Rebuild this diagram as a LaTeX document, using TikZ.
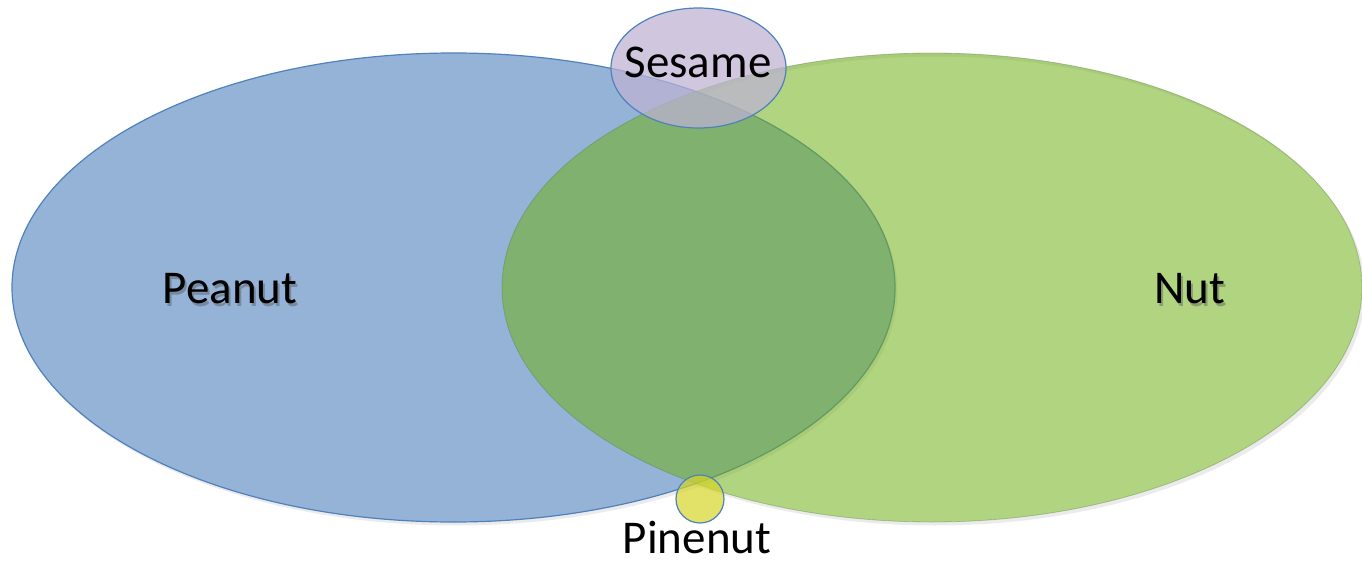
\documentclass[tikz,border=0pt]{standalone}
\usepackage{fontspec}
\setmainfont{Carlito}
\definecolor{pblue}{RGB}{149,179,215}
\definecolor{pborder}{RGB}{79,129,189}
\definecolor{ngreen}{RGB}{112,176,22}
\definecolor{nborder}{RGB}{80,120,60}
\definecolor{slav}{RGB}{190,178,212}
\definecolor{pyel}{RGB}{214,214,40}
\tikzset{
  lbl/.style={font=\fontsize{47}{50}\selectfont, text=black, inner sep=0pt},
  shadowlbl/.style={font=\fontsize{47}{50}\selectfont, text=black!70, opacity=0.4, inner sep=0pt},
  setshape/.style={draw=pborder, line width=1.2pt},
}
\begin{document}
\begin{tikzpicture}[x=1pt,y=-1pt]
\useasboundingbox (0,0) rectangle (1362,562);
\clip (0,0) rectangle (1362,562);
\fill[white] (0,0) rectangle (1362,562);
% shadows (only outside the shapes)
\fill[black, opacity=0.08] (456,291) ellipse [x radius=441.5, y radius=234.5];
\fill[black, opacity=0.08, even odd rule] (935,291) ellipse [x radius=430, y radius=234.5]
   (932,287.5) ellipse [x radius=430, y radius=234.5];
% Peanut
\path[setshape, fill=pblue] (453.5,287.5) ellipse [x radius=441.5, y radius=234.5];
% Nut
\path[fill=ngreen, fill opacity=0.54, draw=nborder, draw opacity=0.35, line width=0.8pt] (932,287.5) ellipse [x radius=430, y radius=234.5];
% labels with shadow
\node[shadowlbl] at (232,291.5) {Peanut};
\node[lbl] (peanut) at (230,289) {Peanut};
\node[shadowlbl] at (1192,291.5) {Nut};
\node[lbl] (nut) at (1190,289) {Nut};
% Sesame
\path[setshape, fill=slav, fill opacity=0.72] (698.5,68) ellipse [x radius=87.5, y radius=60];
\node[lbl] (sesame) at (698,62) {Sesame};
% Pinenut
\path[setshape, fill=pyel, fill opacity=0.7] (700,499) circle [radius=24];
\node[lbl] (pinenut) at (697,537) {Pinenut};
\end{tikzpicture}
\end{document}
